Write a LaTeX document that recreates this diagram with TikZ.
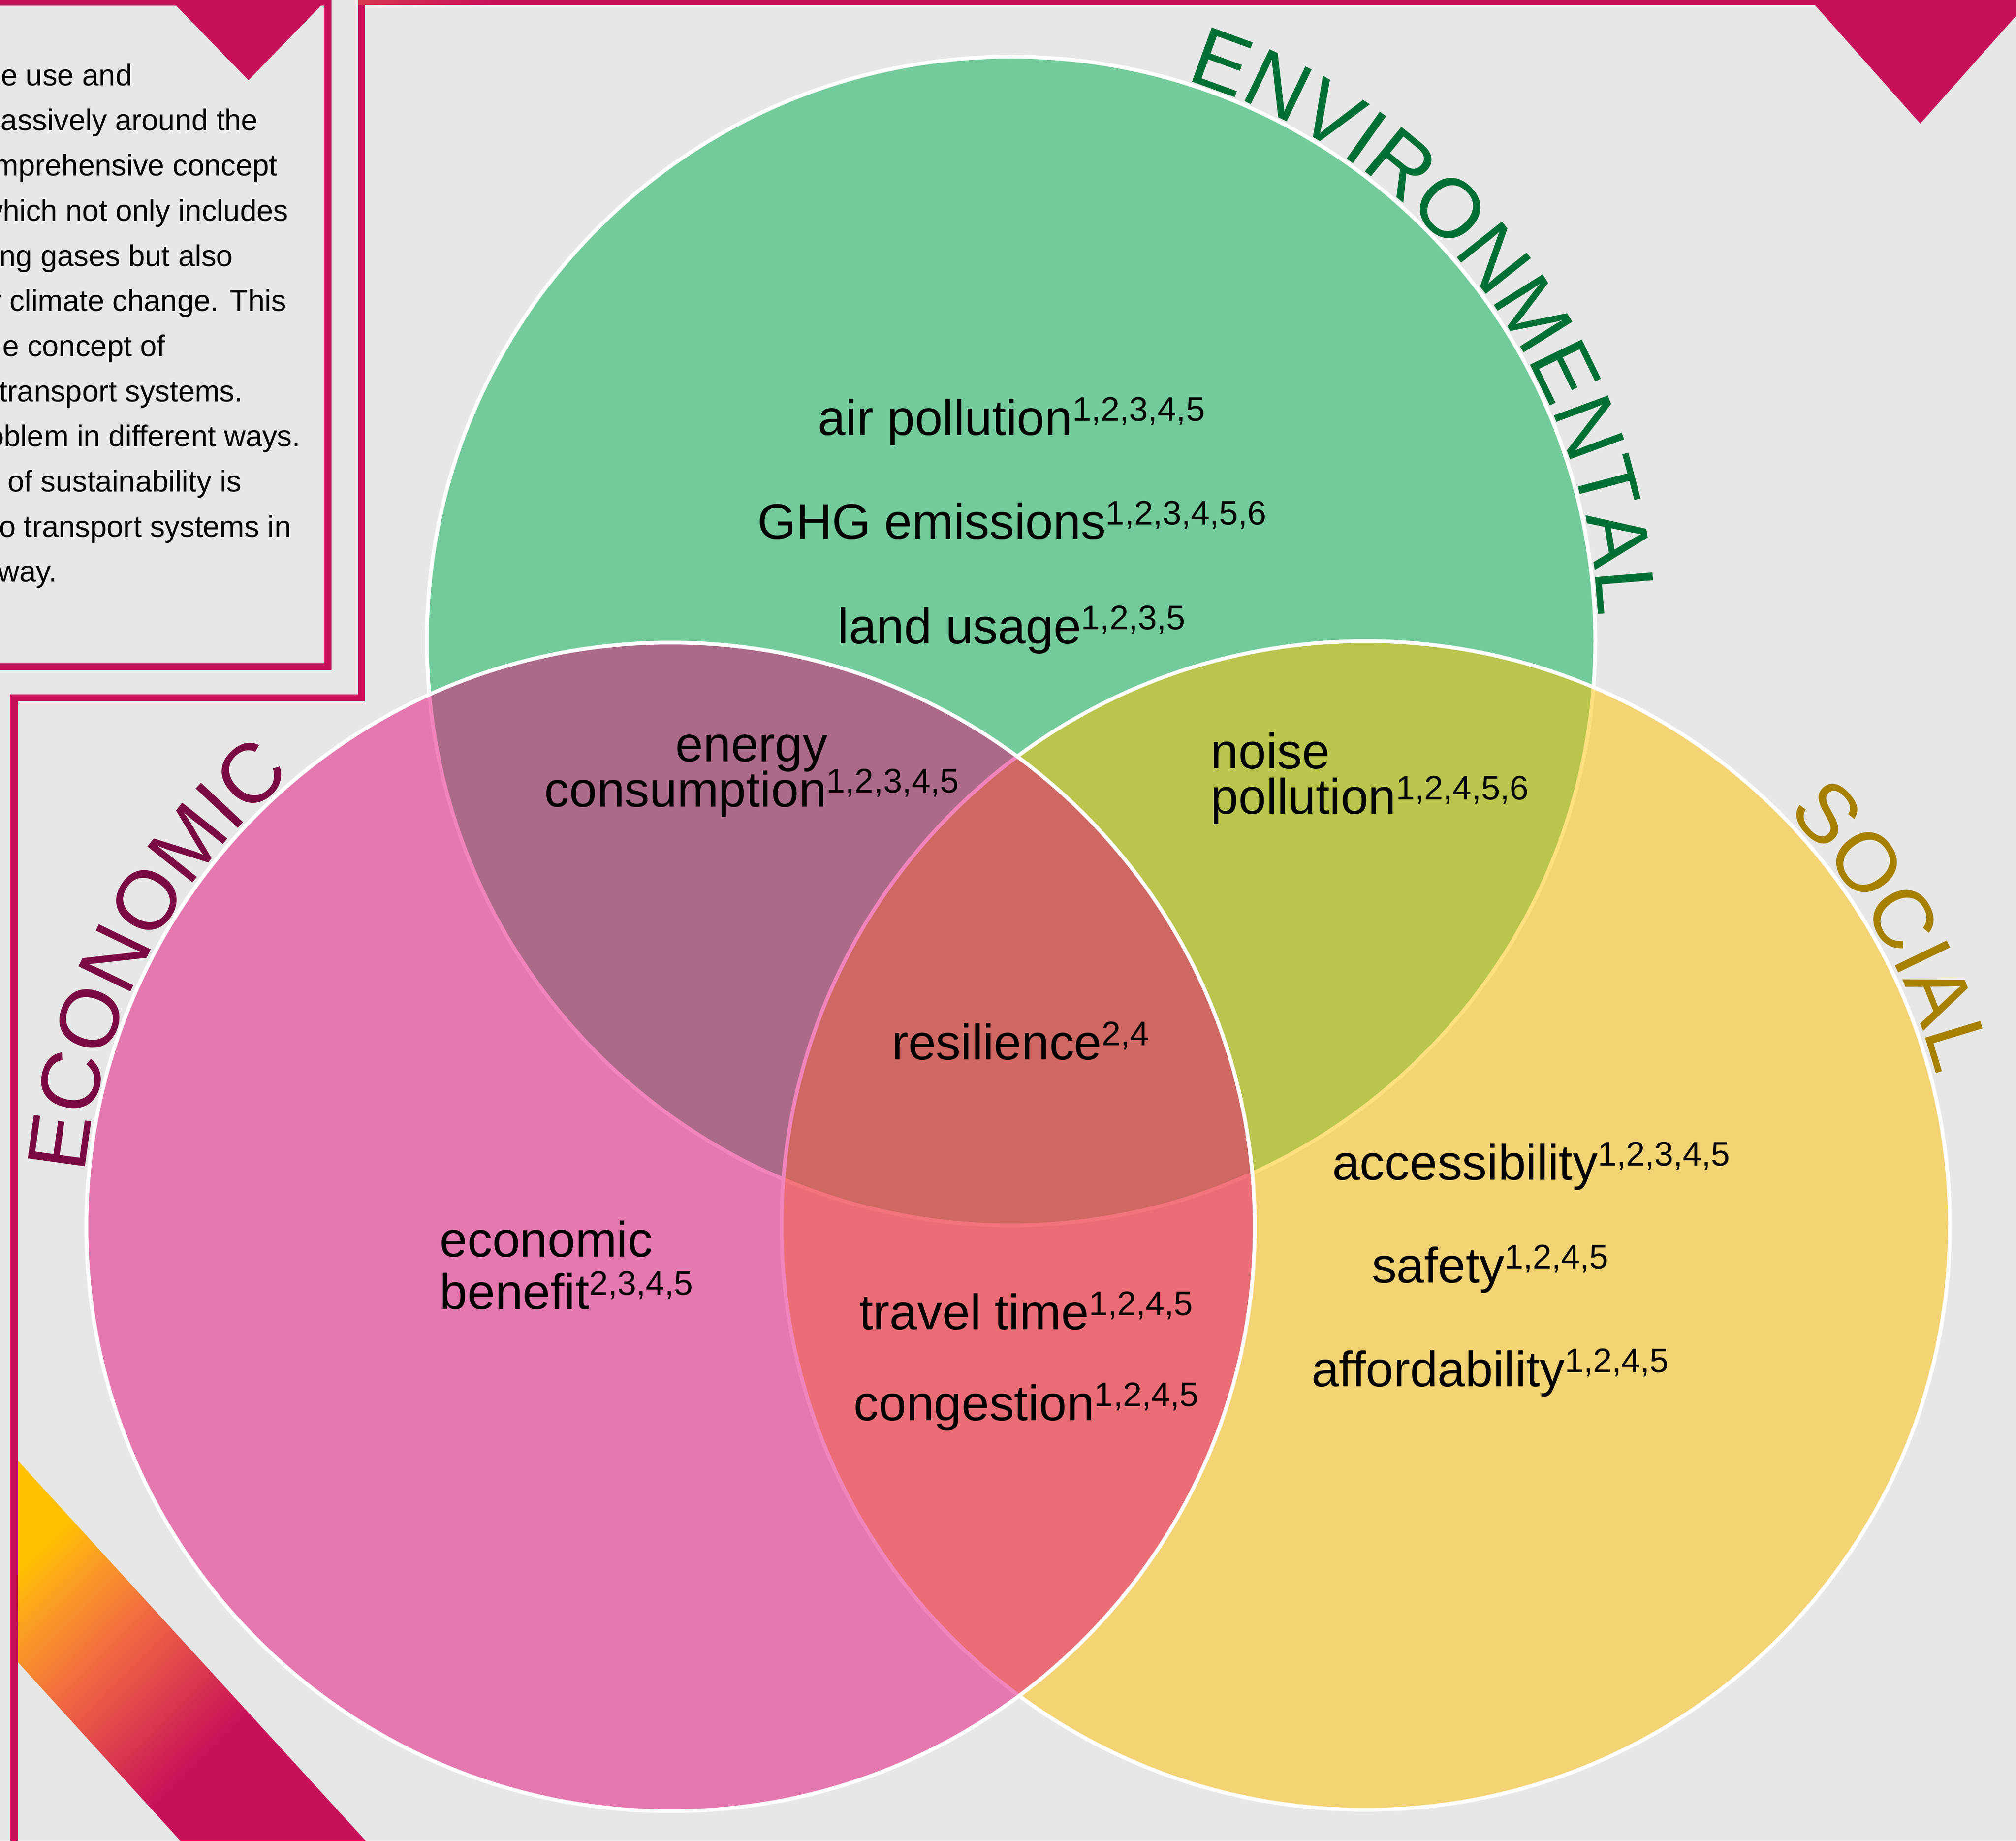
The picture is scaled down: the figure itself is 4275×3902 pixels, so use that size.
\documentclass[tikz,border=0pt]{standalone}
\usepackage{fontspec}
\setmainfont{Liberation Sans}
\usetikzlibrary{calc,decorations.text}

\definecolor{bggray}{RGB}{231,231,231}
\definecolor{crimson}{RGB}{200,16,90}
\definecolor{titlered}{RGB}{216,56,80}
\definecolor{envgreen}{RGB}{0,176,80}
\definecolor{ecopink}{RGB}{229,11,121}
\definecolor{socyellow}{RGB}{255,192,0}
\definecolor{envdark}{RGB}{0,112,52}
\definecolor{ecodark}{RGB}{122,8,66}
\definecolor{socdark}{RGB}{166,128,0}
\definecolor{stripeamber}{RGB}{252,160,34}
\definecolor{stripeorange}{RGB}{242,108,64}
\definecolor{stripered}{RGB}{220,58,78}

\pgfdeclarehorizontalshading{stripefade}{100bp}{color(0bp)=(socyellow); color(26bp)=(socyellow); color(32bp)=(stripeamber); color(42bp)=(stripeorange); color(53bp)=(stripered); color(62bp)=(crimson); color(100bp)=(crimson)}

\newcommand\refs[1]{\raisebox{0.29em}{\fontsize{20.5}{20.5}\selectfont #1}}
\newcommand\curvestyle{\fontsize{50.5}{50.5}\selectfont}

\tikzset{
  venn/.style={fill opacity=0.5, draw=white, draw opacity=1, line width=0.08cm},
  item/.style={inner sep=0pt, font=\fontsize{30}{36}\selectfont},
  blurb/.style={inner sep=0pt, anchor=base east, font=\fontsize{18}{22}\selectfont},
  rim/.style={crimson, line width=0.15cm},
  arch/.style={decorate, decoration={text along path, text align=left, text color=#1}},
}

\begin{document}
\begin{tikzpicture}[x=0.01cm, y=0.01cm]
  \useasboundingbox (0,0) rectangle (4275,3902);
  \fill[bggray] (0,0) rectangle (4275,3902);

  % gradient stripe, bottom left
  \shade[shading=stripefade, shading angle=-45] (30,814) -- (775,0) -- (382,0) -- (30,387) -- cycle;

  % frame lines and corner marks
  \fill[crimson] (0,3890) rectangle (703,3902);
  \fill[crimson] (362,3902) -- (692,3902) -- (527,3732) -- cycle;
  \draw[rim] (0,2488) -- (695,2488) -- (695,3902);
  \draw[rim] (766,3902) -- (766,2422) -- (30,2422) -- (30,0);
  \shade[left color=titlered, right color=crimson] (759,3891) rectangle (1050,3902);
  \fill[crimson] (1050,3891) rectangle (4275,3902);
  \fill[crimson] (3839,3902) -- (4305,3902) -- (4072,3640) -- cycle;

  % text box, cut at the left edge
  \node[blurb] (line1) at (281,3720) {e use and};
  \node[blurb] (line2) at (548,3625) {assively around the};
  \node[blurb] (line3) at (589,3529) {mprehensive concept};
  \node[blurb] (line4) at (612,3433) {which not only includes};
  \node[blurb] (line5) at (495,3337) {ng gases but also};
  \node[blurb] (line6) at (608,3242) {r climate change. This};
  \node[blurb] (line7) at (351,3146) {e concept of};
  \node[blurb] (line8) at (516,3050) {transport systems.};
  \node[blurb] (line9) at (638,2955) {oblem in different ways.};
  \node[blurb] (line10) at (513,2859) {of sustainability is};
  \node[blurb] (line11) at (618,2763) {o transport systems in};
  \node[blurb] (line12) at (122,2668) {way.};

  % the three circles
  \coordinate (env) at (2144,2543);
  \coordinate (eco) at (1422,1301);
  \coordinate (soc) at (2896,1304);
  \draw[venn, fill=envgreen] (env) circle[radius=12.38cm];
  \draw[venn, fill=socyellow] (soc) circle[radius=12.38cm];
  \draw[venn, fill=ecopink] (eco) circle[radius=12.38cm];

  % curved titles
  \path[arch=envdark, decoration={text={|\curvestyle|ENVIRONMENTAL}}]
    ($(env)+(72.7:12.45cm)$) arc[start angle=72.7, end angle=-20, radius=12.45cm];
  \path[arch=ecodark, decoration={text={|\curvestyle|ECONOMIC}}]
    ($(eco)+(174.8:12.47cm)$) arc[start angle=174.8, end angle=110, radius=12.47cm];
  \path[arch=socdark, decoration={text={|\curvestyle|SOCIAL}}]
    ($(soc)+(44.5:12.5cm)$) arc[start angle=44.5, end angle=-5, radius=12.5cm];

  % environmental
  \node[item, anchor=base] (air) at (2145,2979) {air pollution\refs{1,2,3,4,5}};
  \node[item, anchor=base] (ghg) at (2146,2759) {GHG emissions\refs{1,2,3,4,5,6}};
  \node[item, anchor=base] (land) at (2145,2537) {land usage\refs{1,2,3,5}};
  % overlaps
  \node[item, anchor=base] (energy) at (1594,2287) {energy};
  \node[item, anchor=base] (consum) at (1594,2191) {consumption\refs{1,2,3,4,5}};
  \node[item, anchor=base west] (noise) at (2567,2272) {noise};
  \node[item, anchor=base west] (noisepol) at (2567,2176) {pollution\refs{1,2,4,5,6}};
  \node[item, anchor=base] (resil) at (2164,1655) {resilience\refs{2,4}};
  \node[item, anchor=base] (travel) at (2176,1083) {travel time\refs{1,2,4,5}};
  \node[item, anchor=base] (congest) at (2176,890) {congestion\refs{1,2,4,5}};
  % economic
  \node[item, anchor=base west] (econ) at (932,1237) {economic};
  \node[item, anchor=base west] (benefit) at (932,1126) {benefit\refs{2,3,4,5}};
  % social
  \node[item, anchor=base] (access) at (3247,1400) {accessibility\refs{1,2,3,4,5}};
  \node[item, anchor=base] (safety) at (3160,1182) {safety\refs{1,2,4,5}};
  \node[item, anchor=base] (afford) at (3160,962) {affordability\refs{1,2,4,5}};
\end{tikzpicture}
\end{document}
